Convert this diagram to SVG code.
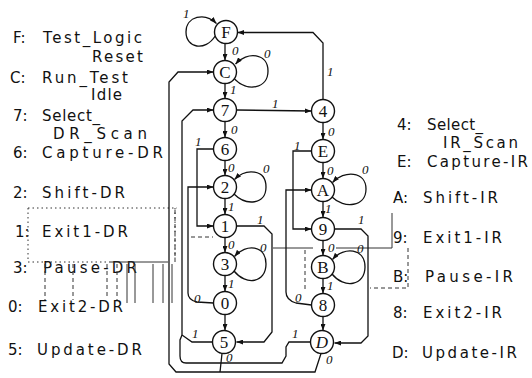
<svg xmlns="http://www.w3.org/2000/svg" width="532" height="378" viewBox="0 0 532 378">
<style>
.bg{fill:#fff}
.lab{font-family:"DejaVu Sans","Liberation Sans",sans-serif;font-size:15px;fill:#111}
.node circle{fill:#fff;stroke:#111;stroke-width:1.4}
.node text{font-family:"Liberation Serif","DejaVu Serif",serif;font-size:17px;fill:#111;text-anchor:middle}
.edge{fill:none;stroke:#111;stroke-width:1.3}
.arr{marker-end:url(#ah)}
.el{font-family:"Liberation Serif","DejaVu Serif",serif;font-style:italic;font-size:13px;fill:#111}
.art{fill:none;stroke:#333;stroke-width:1}
.dot{stroke-dasharray:1.5 3}
.dash{stroke-dasharray:4 3}
</style>
<defs>
<marker id="ah" viewBox="0 0 8 6" refX="8" refY="3" markerWidth="7" markerHeight="5" markerUnits="userSpaceOnUse" orient="auto"><path d="M0,0 L8,3 L0,6 z" fill="#111"/></marker>
</defs>
<rect class="bg" x="0" y="0" width="532" height="378"/>

<g id="legend-left">
<text class="lab" x="13" y="43">F:</text><text class="lab" x="43" y="43" textLength="99" lengthAdjust="spacing">Test_Logic</text>
<text class="lab" x="92" y="62" textLength="51" lengthAdjust="spacing">Reset</text>
<text class="lab" x="10" y="83">C:</text><text class="lab" x="42" y="83" textLength="86" lengthAdjust="spacing">Run_Test</text>
<text class="lab" x="91" y="100" textLength="31" lengthAdjust="spacing">Idle</text>
<text class="lab" x="13" y="121">7:</text><text class="lab" x="42" y="121" textLength="58" lengthAdjust="spacing">Select_</text>
<text class="lab" x="53" y="139" textLength="94" lengthAdjust="spacing">DR_Scan</text>
<text class="lab" x="13" y="158">6:</text><text class="lab" x="42" y="158" textLength="121" lengthAdjust="spacing">Capture-DR</text>
<text class="lab" x="13" y="198">2:</text><text class="lab" x="42" y="198" textLength="83" lengthAdjust="spacing">Shift-DR</text>
<text class="lab" x="15" y="237">1:</text><text class="lab" x="42" y="237" textLength="86" lengthAdjust="spacing">Exit1-DR</text>
<text class="lab" x="13" y="273">3:</text><text class="lab" x="43" y="273" textLength="94" lengthAdjust="spacing">Pause-DR</text>
<text class="lab" x="8" y="312">0:</text><text class="lab" x="38" y="312" textLength="85" lengthAdjust="spacing">Exit2-DR</text>
<text class="lab" x="8" y="355">5:</text><text class="lab" x="37" y="355" textLength="105" lengthAdjust="spacing">Update-DR</text>
</g>

<g id="legend-right">
<text class="lab" x="397" y="130">4:</text><text class="lab" x="427" y="130" textLength="56" lengthAdjust="spacing">Select_</text>
<text class="lab" x="443" y="148" textLength="75" lengthAdjust="spacing">IR_Scan</text>
<text class="lab" x="397" y="167">E:</text><text class="lab" x="427" y="167" textLength="101" lengthAdjust="spacing">Capture-IR</text>
<text class="lab" x="393" y="203">A:</text><text class="lab" x="423" y="203" textLength="75" lengthAdjust="spacing">Shift-IR</text>
<text class="lab" x="393" y="243">9:</text><text class="lab" x="423" y="243" textLength="79" lengthAdjust="spacing">Exit1-IR</text>
<text class="lab" x="393" y="282">B:</text><text class="lab" x="425" y="282" textLength="88" lengthAdjust="spacing">Pause-IR</text>
<text class="lab" x="393" y="318">8:</text><text class="lab" x="423" y="318" textLength="79" lengthAdjust="spacing">Exit2-IR</text>
<text class="lab" x="392" y="358">D:</text><text class="lab" x="422" y="358" textLength="95" lengthAdjust="spacing">Update-IR</text>
</g>

<g id="scan-artifacts">
<path class="art dot" d="M28,208 H177 M28,208 V262 M28,262 H110 M175,208 V262"/>
<path class="art" d="M110,262 H168"/>
<path class="art dash" d="M45,264 V300 M73,264 V300 M107,264 V296 M117,264 V300"/>
<path class="art" d="M127,264 V303 M135,264 V303 M153,264 V303 M163,264 V303 M172,264 V303"/>
<path class="art dash" d="M191,237 H213 M175,210 V262"/>
<path class="art" d="M273,248 H313 M336,248 H392 V213"/>
<path class="art dash" d="M408,248 V288 H370 M305,250 V290"/>
</g>

<g id="connectors">
<path class="edge arr" d="M225,43.5 V60.5"/>
<path class="edge arr" d="M225,83.5 V98.5"/>
<path class="edge arr" d="M225,121.5 V137.5"/>
<path class="edge arr" d="M225,160.5 V175.5"/>
<path class="edge arr" d="M225,198.5 V214.5"/>
<path class="edge arr" d="M225,237.5 V252.5"/>
<path class="edge arr" d="M225,275.5 V291.5"/>
<path class="edge arr" d="M225,314.5 V330.5"/>
<path class="edge arr" d="M323,122.5 V139.5"/>
<path class="edge arr" d="M323,162.5 V178.5"/>
<path class="edge arr" d="M323,201.5 V217.5"/>
<path class="edge arr" d="M323,240.5 V255.5"/>
<path class="edge arr" d="M323,278.5 V293.5"/>
<path class="edge arr" d="M323,316.5 V330.5"/>
<path class="edge arr" d="M215.2,36 C205,52 186,48 186,32 C186,16 205,12 216.5,23.5"/>
<path class="edge arr" d="M234.5,79 C247,92 268,89 268,71 C268,53 247,51 235.5,64"/>
<path class="edge arr" d="M234,194 C246,206 266,205 266,187 C266,169 246,168 234.5,179.5"/>
<path class="edge arr" d="M234,271 C246,286 266,283 266,264 C266,245 246,243 234.5,256.5"/>
<path class="edge arr" d="M332,197 C344,209 366,207 366,189 C366,171 344,170 332.5,182.5"/>
<path class="edge arr" d="M332,274 C344,289 365,286 365,267 C365,248 344,246 332.5,259.5"/>
<path class="edge arr" d="M236.5,110 L311.5,111"/>
<path class="edge arr" d="M323,99.5 V43 L313,32.5 H237.5"/>
<path class="edge arr" d="M213.5,149 H197 V226 H213.5"/>
<path class="edge arr" d="M213.5,303 L197,302 Q188,300 188,293 V187 H213.5"/>
<path class="edge arr" d="M311.5,151 H293 V229 H311.5"/>
<path class="edge arr" d="M311.5,305 L296,303 Q286,300 286,292 V190 H311.5"/>
<path class="edge arr" d="M236.5,226 H264 L272,234 V332 L264,342 H236.5"/>
<path class="edge arr" d="M334.5,229 H361 L368,236 V336 L361,343 H334.5"/>
<path class="edge arr" d="M213.5,342 H192 L182,335 V121 L193,110 H213.5"/>
<path class="edge" d="M311.5,342 H289 L286,347 V356 L282,363 H186 Q180,363 180,356 V340 L182,335"/>
<path class="edge arr" d="M321,353.5 L315,372 H176 L169,364 V82 L178,72 H213.5"/>
<path class="edge" d="M222,353.5 L220,372"/>
</g>

<g id="edge-labels">
<text class="el" x="183" y="18">1</text>
<text class="el" x="232" y="55">0</text>
<text class="el" x="264" y="58">0</text>
<text class="el" x="230" y="94">1</text>
<text class="el" x="272" y="108">1</text>
<text class="el" x="327" y="76">1</text>
<text class="el" x="231" y="134">0</text>
<text class="el" x="195" y="146">1</text>
<text class="el" x="228" y="172">0</text>
<text class="el" x="263" y="173">0</text>
<text class="el" x="228" y="211">1</text>
<text class="el" x="257" y="224">1</text>
<text class="el" x="228" y="249">0</text>
<text class="el" x="260" y="252">0</text>
<text class="el" x="228" y="288">1</text>
<text class="el" x="194" y="303">0</text>
<text class="el" x="192" y="338">1</text>
<text class="el" x="226" y="362">0</text>
<text class="el" x="328" y="136">0</text>
<text class="el" x="294" y="150">1</text>
<text class="el" x="327" y="175">0</text>
<text class="el" x="362" y="174">0</text>
<text class="el" x="325" y="213">1</text>
<text class="el" x="358" y="224">1</text>
<text class="el" x="328" y="252">0</text>
<text class="el" x="357" y="253">0</text>
<text class="el" x="327" y="290">1</text>
<text class="el" x="295" y="302">0</text>
<text class="el" x="292" y="338">1</text>
<text class="el" x="326" y="364">0</text>
</g>

<g id="node-F" class="node"><circle cx="226" cy="32" r="11.5"/><text x="226" y="38">F</text></g>
<g id="node-C" class="node"><circle cx="225" cy="72" r="11.5"/><text x="225" y="78">C</text></g>
<g id="node-7" class="node"><circle cx="225" cy="110" r="11.5"/><text x="225" y="116">7</text></g>
<g id="node-6" class="node"><circle cx="225" cy="149" r="11.5"/><text x="225" y="155">6</text></g>
<g id="node-2" class="node"><circle cx="225" cy="187" r="11.5"/><text x="225" y="193">2</text></g>
<g id="node-1" class="node"><circle cx="225" cy="226" r="11.5"/><text x="225" y="232">1</text></g>
<g id="node-3" class="node"><circle cx="225" cy="264" r="11.5"/><text x="225" y="270">3</text></g>
<g id="node-0" class="node"><circle cx="225" cy="303" r="11.5"/><text x="225" y="309">0</text></g>
<g id="node-5" class="node"><circle cx="224" cy="342" r="11.5"/><text x="224" y="348">5</text></g>
<g id="node-4" class="node"><circle cx="323" cy="111" r="11.5"/><text x="323" y="117">4</text></g>
<g id="node-E" class="node"><circle cx="323" cy="151" r="11.5"/><text x="323" y="157">E</text></g>
<g id="node-A" class="node"><circle cx="323" cy="190" r="11.5"/><text x="323" y="196">A</text></g>
<g id="node-9" class="node"><circle cx="323" cy="229" r="11.5"/><text x="323" y="235">9</text></g>
<g id="node-B" class="node"><circle cx="323" cy="267" r="11.5"/><text x="323" y="273">B</text></g>
<g id="node-8" class="node"><circle cx="323" cy="305" r="11.5"/><text x="323" y="311">8</text></g>
<g id="node-D" class="node"><circle cx="322" cy="342" r="11.5"/><text x="322" y="348" font-style="italic">D</text></g>
</svg>
